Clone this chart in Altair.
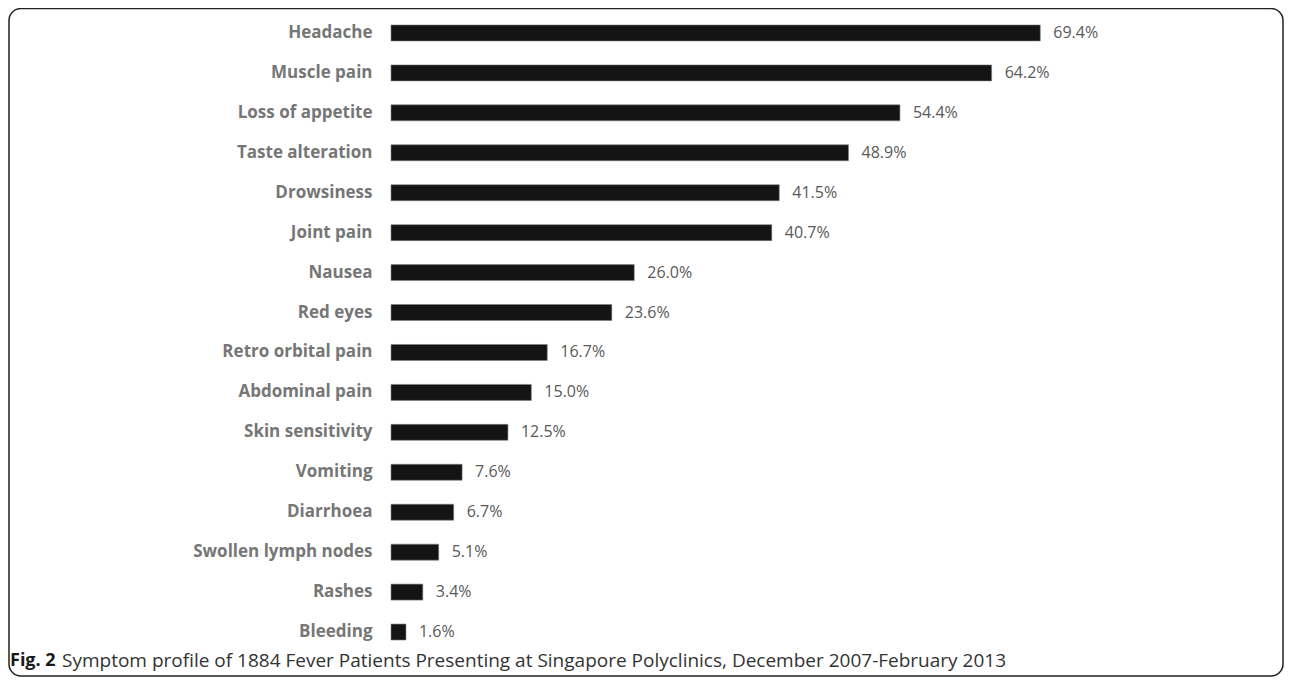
import altair as alt
import pandas as pd

symptoms = ["Headache", "Muscle pain", "Loss of appetite", "Taste alteration",
            "Drowsiness", "Joint pain", "Nausea", "Red eyes", "Retro orbital pain",
            "Abdominal pain", "Skin sensitivity", "Vomiting", "Diarrhoea",
            "Swollen lymph nodes", "Rashes", "Bleeding"]
percents = [69.4, 64.2, 54.4, 48.9, 41.5, 40.7, 26.0, 23.6, 16.7, 15.0,
            12.5, 7.6, 6.7, 5.1, 3.4, 1.6]
caption_bold = "Fig. 2"
caption_text = ("Symptom profile of 1884 Fever Patients Presenting at Singapore "
                "Polyclinics, December 2007-February 2013")

df = pd.DataFrame({"symptom": symptoms, "pct": percents,
                   "label": [f"{v:.1f}%" for v in percents]})

FONT = "Open Sans"

y_enc = alt.Y("symptom:N", sort=symptoms,
              scale=alt.Scale(paddingInner=0.6, paddingOuter=0.3),
              axis=alt.Axis(title=None, ticks=False, domain=False, labelPadding=19,
                            labelFont=FONT, labelFontSize=17, labelFontWeight="bold",
                            labelColor="#767676"))
x_enc = alt.X("pct:Q", scale=alt.Scale(domain=[0, 90], nice=False), axis=None)

base = alt.Chart(df)
bars = base.mark_bar(color="#141414", stroke="#808080", strokeWidth=0.6).encode(
    x=x_enc, y=y_enc)
values = base.mark_text(align="left", baseline="middle", dx=13, font=FONT,
                        fontSize=16, color="#595959").encode(
    x=x_enc, y=y_enc, text="label:N")

one = alt.Chart(pd.DataFrame({"a": [1]}))
frame = one.mark_rect(fill=None, stroke="#222222", strokeWidth=1.5, cornerRadius=12).encode(
    x=alt.value(-382), x2=alt.value(892), y=alt.value(-4.5), y2=alt.value(663))
cap1 = one.mark_text(align="left", baseline="middle", font=FONT, fontSize=18,
                     fontWeight="bold", color="#1a1a1a").encode(
    x=alt.value(-381), y=alt.value(648), text=alt.value(caption_bold))
cap2 = one.mark_text(align="left", baseline="middle", font=FONT, fontSize=19,
                     color="#333333").encode(
    x=alt.value(-329), y=alt.value(648), text=alt.value(caption_text))

chart = alt.layer(frame, bars, values, cap1, cap2).properties(
    width=842, height=639,
    autosize=alt.AutoSizeParams(type="none"),
    padding={"left": 383, "top": 5, "right": 51, "bottom": 25},
).configure_view(stroke=None)

chart.save("out.html", embed_options={"renderer": "svg", "actions": False})
